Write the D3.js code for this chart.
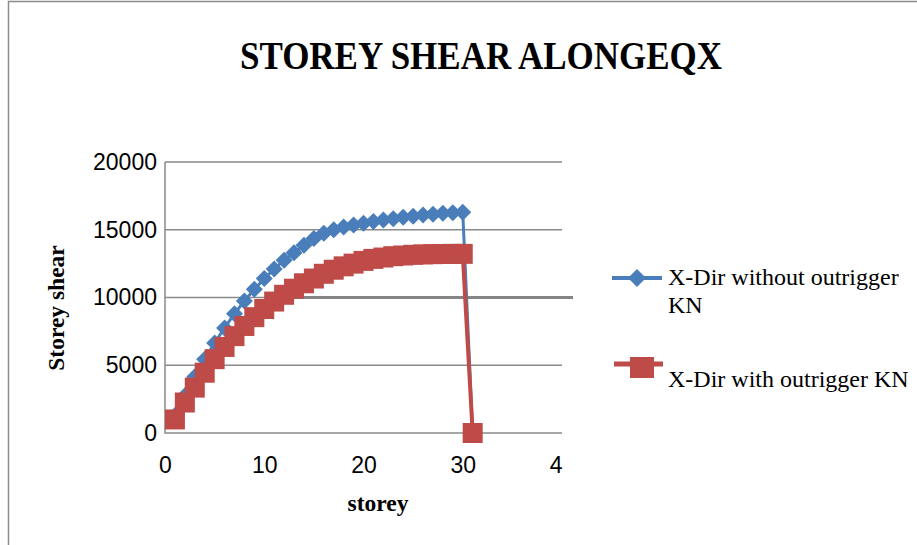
<!DOCTYPE html>
<html>
  <head>
    <meta charset="utf-8" />
    <style>
      body {
        margin: 0;
        background: #fff;
      }
      .tick-label {
        font-family: 'Liberation Sans', Arial, sans-serif;
        font-size: 23px;
        fill: #000;
      }
      .serif {
        font-family: 'Liberation Serif', 'Times New Roman', serif;
        fill: #000;
      }
    </style>
  </head>
  <body>
    <div class="chart"></div>
    <script src="https://d3js.org/d3.v7.min.js"></script>
    <script type="text/javascript">
      const width = 917;
      const height = 545;
      const plot = { left: 165, right: 562, top: 162, bottom: 433 };

      // storey numbers (1..31)
      const storeys = [
        1, 2, 3, 4, 5, 6, 7, 8, 9, 10, 11, 12, 13, 14, 15, 16, 17, 18, 19, 20,
        21, 22, 23, 24, 25, 26, 27, 28, 29, 30, 31,
      ];
      // X-Dir without outrigger KN
      const withoutOutrigger = [
        1300, 2750, 4150, 5450, 6650, 7750, 8800, 9750, 10600, 11400, 12100,
        12750, 13300, 13850, 14350, 14750, 15000, 15200, 15350, 15480, 15600,
        15720, 15820, 15920, 16000, 16080, 16150, 16210, 16260, 16300, 0,
      ];
      // X-Dir with outrigger KN
      const withOutrigger = [
        1000, 2250, 3350, 4450, 5450, 6350, 7150, 7900, 8550, 9150, 9700,
        10200, 10650, 11050, 11400, 11750, 12050, 12300, 12500, 12700, 12850,
        12950, 13050, 13100, 13150, 13180, 13200, 13210, 13220, 13220, 0,
      ];
      const seriesNames = ['X-Dir without outrigger KN', 'X-Dir with outrigger KN'];
      const colors = ['#4a7ebb', '#be4b48'];
      const xTicks = [0, 10, 20, 30, 40];
      const yTicks = [0, 5000, 10000, 15000, 20000];

      const x = d3.scaleLinear().domain([0, 40]).range([plot.left, plot.right]);
      const y = d3.scaleLinear().domain([0, 20000]).range([plot.bottom, plot.top]);

      const svg = d3
        .select('.chart')
        .append('svg')
        .attr('width', width)
        .attr('height', height);

      svg.append('rect').attr('width', width).attr('height', height).attr('fill', '#fff');

      // outer frame (only top and left edges show)
      svg
        .append('path')
        .attr('d', `M8.5,${height} V1.5 H${width}`)
        .attr('fill', 'none')
        .attr('stroke', '#8c8c8c')
        .attr('stroke-width', 1.5);

      // title
      svg
        .append('text')
        .attr('class', 'serif')
        .attr('x', 481)
        .attr('y', 69)
        .attr('text-anchor', 'middle')
        .attr('font-size', 41)
        .attr('font-weight', 'bold')
        .attr('textLength', 482)
        .attr('lengthAdjust', 'spacingAndGlyphs')
        .text('STOREY SHEAR ALONGEQX');

      // gridlines
      svg
        .append('g')
        .selectAll('line')
        .data(yTicks.slice(1))
        .enter()
        .append('line')
        .attr('x1', plot.left)
        .attr('x2', plot.right)
        .attr('y1', (d) => y(d))
        .attr('y2', (d) => y(d))
        .attr('stroke', '#8a8a8a')
        .attr('stroke-width', 1.5);

      // the darker stray segment on the 10000 line
      svg
        .append('line')
        .attr('x1', 277)
        .attr('x2', 573)
        .attr('y1', y(10000))
        .attr('y2', y(10000))
        .attr('stroke', '#858585')
        .attr('stroke-width', 3);

      // axes lines
      svg
        .append('path')
        .attr('d', `M${plot.left},${plot.top} V${plot.bottom} H${plot.right}`)
        .attr('fill', 'none')
        .attr('stroke', '#8a8a8a')
        .attr('stroke-width', 1.5);

      // y tick labels
      const axisLeft = d3
        .axisLeft(y)
        .tickValues(yTicks)
        .tickFormat(d3.format('d'))
        .tickSize(0)
        .tickPadding(8);
      const gy = svg.append('g').attr('transform', `translate(${plot.left},0)`).call(axisLeft);
      gy.select('.domain').remove();
      gy.selectAll('text').attr('class', 'tick-label').attr('font-size', null).attr('font-family', null);

      // x tick labels (clipped on the right like the original)
      svg
        .append('clipPath')
        .attr('id', 'xclip')
        .append('rect')
        .attr('x', 0)
        .attr('y', 0)
        .attr('width', 563)
        .attr('height', height);
      const axisBottom = d3
        .axisBottom(x)
        .tickValues(xTicks)
        .tickFormat(d3.format('d'))
        .tickSize(0)
        .tickPadding(24);
      const gx = svg
        .append('g')
        .attr('transform', `translate(0,${plot.bottom})`)
        .attr('clip-path', 'url(#xclip)')
        .call(axisBottom);
      gx.select('.domain').remove();
      gx.selectAll('text').attr('class', 'tick-label').attr('font-size', null).attr('font-family', null);

      // axis titles
      svg
        .append('text')
        .attr('class', 'serif')
        .attr('x', 378)
        .attr('y', 511)
        .attr('text-anchor', 'middle')
        .attr('font-size', 23.5)
        .attr('font-weight', 'bold')
        .text('storey');
      svg
        .append('text')
        .attr('class', 'serif')
        .attr('transform', 'translate(64,308) rotate(-90)')
        .attr('text-anchor', 'middle')
        .attr('font-size', 23.5)
        .attr('font-weight', 'bold')
        .text('Storey shear');

      const line = d3
        .line()
        .x((d) => x(d[0]))
        .y((d) => y(d[1]));

      const blueData = storeys.map((s, i) => [s, withoutOutrigger[i]]);
      const redData = storeys.map((s, i) => [s, withOutrigger[i]]);

      const diamond = (cx, cy, r) =>
        `M${cx},${cy - r} L${cx + r},${cy} L${cx},${cy + r} L${cx - r},${cy} Z`;

      // series 1 - diamonds
      svg
        .append('path')
        .datum(blueData)
        .attr('d', line)
        .attr('fill', 'none')
        .attr('stroke', colors[0])
        .attr('stroke-width', 3);
      svg
        .append('g')
        .selectAll('path')
        .data(blueData)
        .enter()
        .append('path')
        .attr('d', (d) => diamond(x(d[0]), y(d[1]), 8.5))
        .attr('fill', colors[0]);

      // series 2 - squares
      svg
        .append('path')
        .datum(redData)
        .attr('d', line)
        .attr('fill', 'none')
        .attr('stroke', colors[1])
        .attr('stroke-width', 4);
      svg
        .append('g')
        .selectAll('rect')
        .data(redData)
        .enter()
        .append('rect')
        .attr('x', (d) => x(d[0]) - 10)
        .attr('y', (d) => y(d[1]) - 10)
        .attr('width', 20)
        .attr('height', 20)
        .attr('fill', colors[1]);

      // legend
      const legend = svg.append('g');
      legend
        .append('line')
        .attr('x1', 612)
        .attr('x2', 662)
        .attr('y1', 278)
        .attr('y2', 278)
        .attr('stroke', colors[0])
        .attr('stroke-width', 4);
      legend.append('path').attr('d', diamond(637, 278, 9)).attr('fill', colors[0]);
      const t1 = legend
        .append('text')
        .attr('class', 'serif')
        .attr('x', 668)
        .attr('y', 285)
        .attr('font-size', 24);
      t1.append('tspan').text('X-Dir without outrigger');
      t1.append('tspan').attr('x', 668).attr('dy', 28).text('KN');

      legend
        .append('line')
        .attr('x1', 614)
        .attr('x2', 663)
        .attr('y1', 364)
        .attr('y2', 364)
        .attr('stroke', colors[1])
        .attr('stroke-width', 5);
      legend
        .append('rect')
        .attr('x', 630)
        .attr('y', 357)
        .attr('width', 24)
        .attr('height', 21)
        .attr('fill', colors[1]);
      legend
        .append('text')
        .attr('class', 'serif')
        .attr('x', 668)
        .attr('y', 387)
        .attr('font-size', 24)
        .text(seriesNames[1]);
    </script>
  </body>
</html>
